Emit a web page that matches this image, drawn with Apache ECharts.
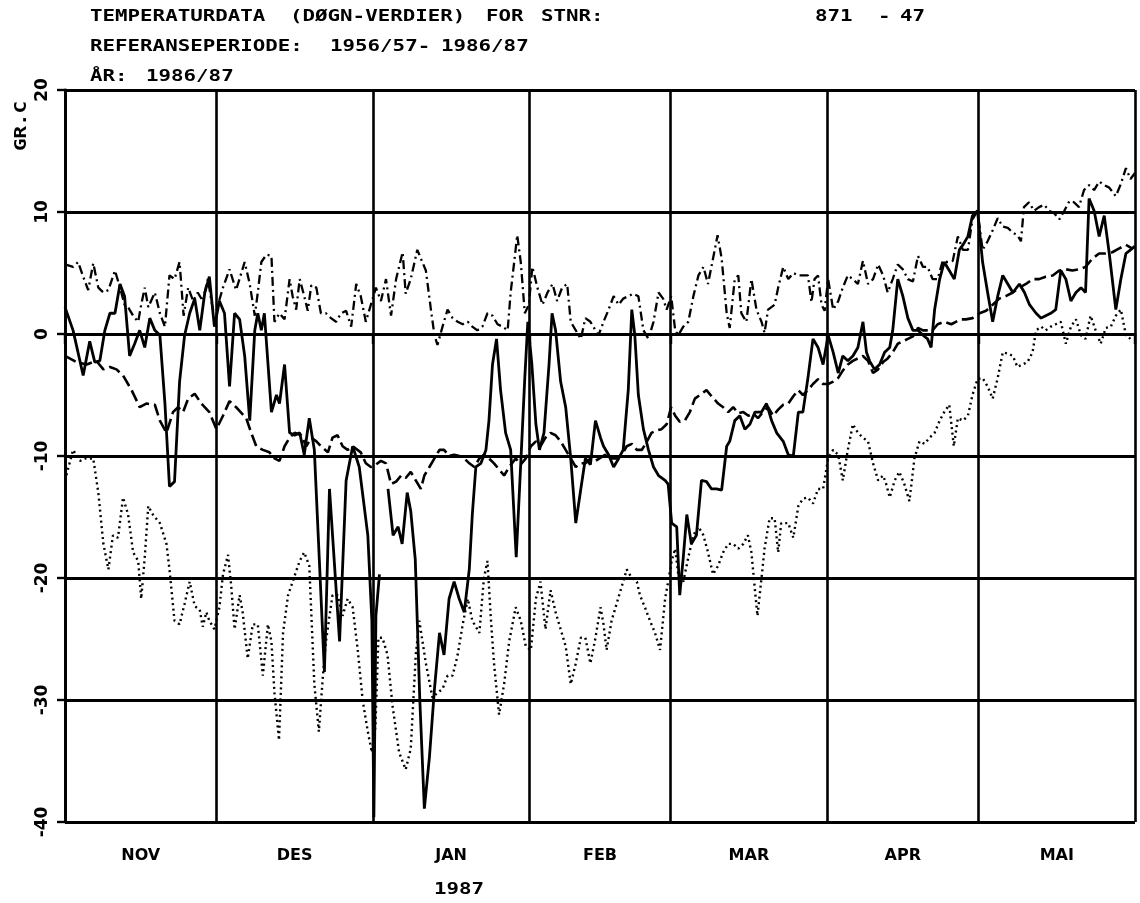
<!DOCTYPE html>
<html>
<head>
<meta charset="utf-8">
<script src="https://cdn.jsdelivr.net/npm/echarts@6/dist/echarts.min.js"></script>
<style>
html,body{margin:0;padding:0;background:#fff;}
#chart{width:1140px;height:903px;}
</style>
</head>
<body>
<div id="chart"></div>
<script>
// Month boundaries (day index from 1 Nov 1986) and month labels
var monthStarts = [0, 30, 61, 92, 120, 151, 181, 212];
var monthNames = ['NOV', 'DES', 'JAN', 'FEB', 'MAR', 'APR', 'MAI'];
var yTicks = [-40, -30, -20, -10, 0, 10, 20];

// Dash-dot curve (upper reference curve)
var maxDays = [0,1.6,2.6,3.6,4.6,5.6,6.6,7.6,8.6,9.9,10.9,11.8,12.5,13.5,14.5,15.1,15.8,16.5,17.8,18.8,19.8,20.7,21.7,22.7,23.5,24.4,25.4,26.3,27.3,28.3,29.3,30.3,31.3,32.6,33.9,35.6,36.6,37.6,38.2,38.9,39.9,40.9,41.5,42.5,43.5,44.5,45.1,45.8,46.5,47.4,48.1,48.8,49.8,50.7,51.7,52.7,53.7,54.7,55.7,56.7,57.7,58.6,59.6,60.6,61.6,62.6,63.6,64.6,65.6,66.9,67.5,68.5,69.8,71.5,72.5,73.2,73.8,74.8,75.8,76.8,77.8,78.8,79.8,80.7,81.7,82.7,83.7,84.7,85.7,86.7,87.7,88.3,89.0,89.6,90.3,91.1,91.9,92.6,93.6,94.6,95.6,96.6,97.5,98.5,99.5,100.2,101.2,102.2,103.1,104.1,105.1,105.7,106.7,107.7,108.7,109.7,110.6,111.6,112.6,113.6,114.6,115.6,116.6,117.6,118.5,119.2,120.1,120.9,121.5,122.5,123.5,124.5,125.5,126.5,127.4,128.4,129.3,130.1,131.1,131.7,132.7,133.4,134.0,135.0,136.0,137.0,138.0,138.6,139.3,140.6,141.3,142.3,143.3,144.3,145.3,146.2,147.2,147.9,148.5,149.2,149.9,150.5,151.2,152.2,153.2,154.1,155.1,156.1,157.1,158.1,159.1,160.1,161.1,162.1,163.0,164.0,165.0,166.0,167.0,168.0,169.0,170.0,170.9,171.9,172.9,173.9,174.9,175.9,176.9,177.9,178.9,179.8,180.8,181.8,182.8,183.8,184.8,185.8,186.8,187.8,188.7,189.4,190.0,191.0,192.0,193.0,194.0,195.0,196.0,197.0,198.0,199.0,199.9,200.9,201.9,202.9,203.9,204.9,205.9,206.9,208.2,209.2,210.2,211.1,212];
var maxVals = [5.7,5.5,5.9,4.7,3.6,5.8,3.8,3.4,3.6,5.2,3.8,2.4,2.2,1.5,1.0,2.4,3.8,2.2,3.4,1.7,0.6,4.8,4.5,5.9,1.5,3.8,2.7,3.4,2.7,4.5,2.0,2.4,3.8,5.3,3.6,5.9,4.1,1.5,3.4,5.9,6.5,6.4,1.0,1.7,1.2,4.5,3.1,2.0,4.5,3.1,1.9,4.0,3.8,1.7,1.7,1.3,1.0,1.7,1.9,0.6,4.1,3.1,1.0,2.4,3.8,2.7,4.5,1.5,4.5,6.7,3.3,4.5,6.9,5.2,2.0,-0.1,-0.9,0.6,2.0,1.3,1.0,0.8,1.0,0.6,0.3,0.6,1.7,1.5,0.8,0.6,0.3,3.4,5.9,8.1,5.9,1.7,2.4,5.5,3.8,2.4,3.4,4.1,2.7,3.8,4.1,1.0,0.3,-0.4,1.3,1.0,0.3,-0.1,1.0,2.0,3.1,2.4,2.9,3.1,3.3,3.1,0.3,-0.4,1.0,3.4,2.9,2.0,3.1,0.3,-0.1,0.6,1.0,3.1,4.8,5.5,4.1,6.2,8.1,6.2,1.7,0.5,4.5,4.8,1.7,1.0,4.5,2.0,1.0,0.1,2.0,2.4,3.8,5.5,4.5,5.0,4.8,4.8,4.8,2.6,4.5,4.8,2.4,1.9,4.5,2.0,2.7,3.8,4.8,4.5,4.1,6.0,4.1,4.5,5.7,4.8,3.4,4.5,5.7,5.3,4.5,4.3,6.4,5.5,5.5,4.5,4.5,6.0,5.9,6.0,8.0,6.9,6.9,9.4,10.1,6.9,7.6,8.5,9.5,8.8,8.7,8.3,8.1,7.6,10.4,10.8,10.1,10.4,10.6,10.1,9.9,9.4,10.1,10.9,10.8,10.4,11.8,12.2,11.8,12.5,12.2,12.0,11.3,12.3,13.6,12.7,13.2];

// Dashed curve (reference mean)
var meanDays = [0,2.3,4.3,6.2,7.6,8.9,10.2,11.5,13.2,14.8,16.1,17.8,18.8,20.1,21.4,22.4,23.4,24.4,25.7,27.0,28.6,30.0,31.3,32.6,33.9,35.9,36.9,37.9,39.2,40.5,41.5,42.5,43.5,44.5,45.5,46.8,47.8,48.8,49.8,50.7,52.1,53.0,54.0,55.0,56.0,57.0,58.6,59.6,60.6,61.6,62.6,63.6,64.6,65.6,66.6,67.5,68.5,69.5,70.5,71.2,72.2,73.2,74.2,75.1,76.1,77.1,78.1,79.1,80.1,81.1,82.1,83.0,84.0,85.0,86.0,87.0,88.0,89.3,90.3,91.3,92.3,93.3,94.2,95.2,96.2,97.2,98.2,99.2,100.2,101.2,102.2,103.1,104.1,105.1,107.0,108.3,109.3,110.3,111.3,112.3,113.3,114.3,115.3,116.2,117.2,118.2,119.2,120.1,120.9,121.8,122.8,123.8,124.8,125.8,127.1,128.1,129.4,130.4,131.4,132.4,133.4,134.4,135.4,136.3,137.3,138.3,139.3,140.3,141.3,142.3,143.3,144.3,145.3,146.2,147.2,148.2,149.2,150.2,151.2,152.2,153.2,154.1,155.1,156.1,157.1,158.1,159.1,160.1,161.1,162.1,163.0,164.0,165.0,166.0,167.0,168.0,169.0,170.0,170.9,171.9,172.9,174.2,175.6,176.5,177.5,178.5,179.8,181.2,182.5,183.8,185.1,186.4,187.8,189.1,190.4,191.7,193.0,194.3,195.7,197.0,198.3,199.6,200.9,202.2,203.6,204.9,206.2,207.5,208.8,210.2,211.5];
var meanVals = [-1.8,-2.3,-2.5,-2.2,-2.9,-2.7,-2.9,-3.4,-4.6,-6.0,-5.7,-5.8,-7.1,-8.1,-6.4,-6.0,-6.4,-5.3,-4.9,-5.7,-6.4,-7.8,-6.7,-5.5,-6.0,-6.9,-8.1,-9.2,-9.5,-9.7,-10.2,-10.4,-9.2,-8.5,-8.1,-8.3,-9.2,-8.5,-8.8,-9.2,-9.7,-8.5,-8.3,-9.2,-9.5,-9.2,-9.7,-10.6,-10.9,-10.7,-10.4,-10.6,-12.3,-12.1,-11.6,-11.8,-11.3,-12.0,-12.7,-11.6,-10.9,-10.2,-9.5,-9.5,-10.0,-9.9,-10.0,-10.2,-10.6,-10.9,-10.2,-9.9,-10.2,-10.6,-11.1,-11.6,-10.9,-10.2,-10.7,-10.2,-9.2,-8.8,-9.2,-8.5,-8.1,-8.3,-8.8,-9.5,-10.2,-10.9,-10.6,-10.6,-10.2,-10.4,-9.9,-10.2,-10.2,-9.9,-9.2,-9.0,-9.5,-9.5,-8.8,-8.1,-7.9,-7.8,-7.4,-6.0,-6.7,-7.2,-7.1,-6.4,-5.3,-5.0,-4.6,-5.1,-5.7,-6.0,-6.4,-6.0,-6.5,-6.4,-6.7,-6.5,-6.9,-6.4,-6.0,-6.7,-6.2,-5.8,-5.7,-5.1,-4.6,-5.0,-4.6,-4.1,-3.7,-4.1,-4.1,-3.9,-3.6,-3.0,-2.5,-2.2,-2.0,-1.8,-2.2,-3.2,-2.9,-2.3,-2.0,-1.5,-0.8,-0.6,-0.4,-0.2,0.5,0.3,0.3,0.3,0.8,1.0,0.8,1.0,1.2,1.2,1.3,1.7,1.9,2.4,2.9,3.1,3.4,3.8,4.1,4.5,4.5,4.7,4.8,5.2,5.3,5.2,5.3,5.5,6.2,6.6,6.6,6.7,7.0,7.3,7.0];

// Solid curve (daily values 1986/87); null marks the break in the trace
var obsDays = [0,1.6,3.6,4.9,5.9,6.9,7.9,8.9,9.9,10.9,11.8,12.8,13.8,14.8,15.8,16.8,17.8,18.8,19.8,20.7,21.7,22.7,23.7,24.7,25.7,26.7,27.7,28.6,29.6,30.6,31.6,32.6,33.6,34.6,35.6,36.6,37.6,38.2,38.9,39.5,40.9,41.9,42.5,43.5,44.5,45.5,46.5,47.4,48.4,49.4,51.4,52.4,54.4,55.7,57.0,58.3,60.0,60.8,61.2,61.6,62.3,63.1,64.0,65.0,66.0,66.8,67.8,68.5,69.4,70.3,71.2,72.2,73.2,74.2,75.1,76.1,77.1,78.1,79.1,80.1,80.7,81.4,82.4,83.4,84.0,84.7,85.5,86.3,87.3,88.3,89.4,90.3,91.1,91.7,92.5,93.3,94.0,94.9,95.9,96.5,97.2,98.2,99.2,100.2,101.2,102.2,103.1,104.1,105.1,106.1,106.7,107.7,108.7,109.7,110.6,111.6,112.3,112.9,113.6,114.6,115.6,116.6,117.6,118.9,119.5,120.2,121.2,121.8,122.5,123.2,124.1,125.1,126.1,127.1,128.1,129.1,130.1,131.1,131.7,132.7,133.7,134.7,135.7,136.7,138.0,139.0,140.0,141.0,142.3,143.3,144.3,145.3,146.2,147.2,148.2,149.2,150.2,151.2,152.2,153.2,154.1,155.1,156.1,157.1,158.1,158.8,159.4,160.4,161.4,162.4,163.4,164.0,165.0,166.0,167.0,168.0,169.0,170.0,170.9,171.6,172.3,173.3,174.2,175.2,176.2,177.2,177.9,178.9,179.8,180.8,181.8,182.8,183.8,184.8,185.8,186.8,187.8,189.1,190.1,191.1,192.4,193.4,194.3,195.3,196.3,197.3,198.3,199.3,200.3,201.3,202.2,202.9,203.9,204.9,205.9,206.9,208.2,209.2,210.2,211.1,212];
var obsVals = [2.2,0.3,-3.4,-0.6,-2.3,-2.2,0.3,1.7,1.7,4.1,3.1,-1.8,-0.8,0.3,-1.1,1.3,0.3,-0.1,-5.7,-12.5,-12.1,-3.9,-0.1,1.7,2.9,0.3,3.4,4.7,0.6,2.7,1.7,-4.3,1.7,1.2,-1.8,-7.1,0.3,1.7,0.3,1.7,-6.4,-5.0,-5.7,-2.5,-8.1,-8.3,-8.1,-9.9,-6.9,-9.5,-27.7,-12.7,-25.2,-12.0,-9.2,-10.9,-16.5,-23.5,-39.6,-23.1,-19.7,null,-12.7,-16.5,-15.8,-17.2,-13.0,-14.5,-18.5,-30.0,-38.9,-34.7,-29.1,-24.5,-26.3,-21.7,-20.3,-21.7,-22.8,-19.3,-14.8,-10.9,-10.6,-9.5,-7.1,-2.5,-0.4,-4.6,-8.1,-9.5,-18.3,-10.6,-3.6,1.0,-2.5,-7.4,-9.5,-8.1,-2.5,1.7,0.3,-3.9,-6.0,-10.2,-15.5,-12.7,-10.2,-10.7,-7.1,-8.5,-9.2,-9.9,-10.9,-10.2,-9.5,-4.6,2.0,-0.1,-5.0,-7.8,-9.5,-10.9,-11.6,-12.0,-12.3,-15.5,-15.8,-21.4,-18.3,-14.8,-17.2,-16.5,-12.0,-12.1,-12.7,-12.7,-12.8,-9.2,-8.8,-7.1,-6.7,-7.8,-7.4,-6.4,-6.4,-5.7,-7.1,-8.1,-8.8,-9.9,-10.0,-6.4,-6.4,-3.6,-0.4,-1.1,-2.5,-0.1,-1.5,-3.2,-1.8,-2.2,-1.8,-1.1,1.0,-1.5,-2.2,-2.9,-2.5,-1.5,-1.1,0.3,4.5,3.1,1.3,0.3,0.3,-0.1,-0.4,-1.1,2.0,4.5,5.9,5.2,4.5,6.9,7.3,8.0,9.7,10.1,5.9,3.4,1.0,3.1,4.8,4.1,3.4,4.1,3.4,2.4,1.7,1.3,1.5,1.7,2.0,5.2,4.5,2.7,3.4,3.8,3.4,11.1,10.1,8.0,9.7,6.6,2.0,4.5,6.6,6.9,7.2];

// Dotted curve (lower reference curve)
var minDays = [0,1.6,3.0,3.9,5.6,6.6,7.6,8.6,9.5,10.5,11.5,12.5,13.5,14.5,15.1,15.8,16.5,17.4,18.8,20.1,20.7,21.7,22.7,23.7,24.7,25.7,26.7,27.3,28.0,28.6,29.6,30.6,31.3,32.3,32.9,33.6,34.6,35.2,36.2,37.2,38.2,39.2,40.2,40.9,41.5,42.4,43.2,44.2,45.1,46.5,47.4,48.4,49.4,50.3,51.1,51.7,53.0,54.0,55.0,56.0,57.0,58.0,59.0,60.0,60.8,61.5,62.1,62.9,63.9,64.9,66.2,67.5,68.5,69.5,70.2,71.5,72.8,73.8,74.8,75.8,76.8,77.8,78.8,79.8,80.7,82.1,83.0,83.7,84.4,85.0,86.0,87.0,88.0,89.3,90.3,91.3,92.3,93.3,94.2,95.2,96.2,97.2,98.2,99.2,100.2,101.2,102.2,103.1,104.1,105.1,106.1,106.7,107.3,108.3,109.3,110.3,111.3,112.3,113.3,113.9,114.9,115.9,116.9,117.9,118.9,119.5,120.2,120.9,121.5,122.5,123.5,124.5,125.5,126.5,127.4,128.4,129.4,130.4,131.4,132.4,133.4,134.4,135.3,136.0,136.7,137.2,138.0,138.6,139.6,140.6,141.3,141.9,143.3,144.3,145.3,146.2,147.2,148.2,149.2,150.2,151.2,152.2,153.2,154.1,155.1,156.1,157.1,158.1,159.1,160.1,161.1,162.1,162.7,163.4,164.4,165.3,166.3,167.3,168.3,169.3,170.3,171.3,172.3,173.3,174.2,175.2,176.1,176.9,177.9,178.9,179.8,180.8,181.8,182.8,183.8,184.8,185.8,186.8,187.8,188.7,189.7,190.7,191.7,192.4,193.4,194.3,195.3,196.3,197.3,198.3,199.3,200.3,201.3,202.2,203.2,204.2,205.2,206.2,207.2,208.2,209.2,210.2,211.1];
var minVals = [-12.0,-9.5,-10.4,-10.2,-10.2,-13.0,-17.2,-19.3,-16.5,-16.7,-13.4,-14.8,-17.9,-18.6,-21.7,-18.3,-14.1,-14.8,-15.5,-17.2,-19.3,-23.5,-23.8,-22.1,-20.3,-22.3,-22.6,-24.0,-22.8,-23.5,-24.2,-22.4,-19.7,-18.1,-20.5,-24.2,-21.4,-22.8,-26.6,-23.8,-23.8,-28.0,-23.8,-25.2,-29.4,-33.3,-24.5,-21.4,-20.3,-18.6,-17.9,-19.0,-28.7,-32.6,-28.0,-25.2,-21.4,-21.4,-23.1,-21.7,-22.4,-25.9,-30.1,-32.6,-34.3,-32.2,-24.9,-24.9,-26.3,-30.5,-34.3,-35.7,-34.0,-26.3,-23.5,-27.0,-29.8,-29.4,-29.1,-28.0,-28.0,-26.3,-23.8,-21.7,-23.5,-24.5,-20.0,-18.6,-23.5,-27.0,-31.2,-28.7,-25.2,-22.4,-23.5,-25.6,-25.9,-21.7,-20.3,-24.2,-21.0,-22.8,-24.2,-25.6,-28.7,-27.0,-24.9,-24.9,-27.0,-24.9,-22.4,-23.8,-25.9,-23.5,-22.1,-20.7,-19.3,-20.0,-20.3,-21.4,-22.4,-23.5,-24.5,-25.9,-21.7,-20.3,-18.6,-17.6,-19.7,-20.3,-18.3,-16.5,-15.8,-16.5,-17.9,-19.7,-19.0,-17.9,-17.2,-17.2,-17.6,-17.2,-16.5,-17.9,-21.0,-23.1,-20.0,-17.6,-15.1,-15.1,-17.9,-15.5,-15.5,-16.7,-14.1,-13.5,-13.4,-13.9,-12.7,-12.7,-10.2,-9.5,-9.9,-12.0,-9.5,-7.4,-8.1,-8.5,-8.8,-10.6,-12.0,-11.6,-12.3,-13.4,-12.0,-11.3,-12.3,-13.7,-10.2,-8.8,-9.0,-8.5,-8.1,-7.1,-6.4,-5.8,-9.2,-6.9,-7.1,-6.7,-5.0,-3.7,-3.6,-4.3,-5.3,-3.6,-1.5,-1.6,-1.8,-2.7,-2.5,-2.3,-1.5,0.3,0.6,0.3,0.6,0.8,1.0,-0.8,0.6,1.2,-0.1,-0.4,1.5,0.3,-0.8,0.5,0.6,1.5,2.0,-0.1,-0.4];

function pairs(xs, ys) {
  return xs.map(function (x, i) { return [x, ys[i]]; });
}
var monthMids = monthNames.map(function (n, i) { return (monthStarts[i] + monthStarts[i + 1]) / 2; });

var FONT = '"DejaVu Sans", "Liberation Sans", sans-serif';
var MONO = 'bold 16px "DejaVu Sans Mono", "Liberation Mono", monospace';
var INK = '#000';

function plotText(s, x, y, opts) {
  opts = opts || {};
  return {
    type: 'text', x: x, y: y, scaleX: opts.scaleX || 1.3, rotation: opts.rotation || 0,
    style: {text: s, font: opts.font || MONO, fill: INK, align: opts.align || 'left', verticalAlign: 'middle'}
  };
}

var chart = echarts.init(document.getElementById('chart'), null, {renderer: 'canvas'});
chart.setOption({
  animation: false,
  backgroundColor: '#fff',
  grid: {left: 65, top: 90, width: 1070, height: 732, containLabel: false},
  xAxis: {
    type: 'value', min: monthStarts[0], max: monthStarts[monthStarts.length - 1],
    axisLine: {show: true, lineStyle: {color: INK, width: 2.8}},
    axisTick: {show: true, customValues: monthStarts, length: 10, inside: false, lineStyle: {color: INK, width: 2.4}},
    axisLabel: {
      show: true, customValues: monthMids, margin: 26,
      color: INK, fontFamily: FONT, fontWeight: 'bold', fontSize: 16,
      formatter: function (v) {
        for (var i = 0; i < monthMids.length; i++) { if (Math.abs(monthMids[i] - v) < 0.01) return monthNames[i]; }
        return '';
      }
    },
    splitLine: {show: false}
  },
  yAxis: {
    type: 'value', min: yTicks[0], max: yTicks[yTicks.length - 1], interval: 10,
    axisLine: {show: true, lineStyle: {color: INK, width: 2.8}},
    axisTick: {show: true, length: 8, inside: false, lineStyle: {color: INK, width: 2.4}},
    axisLabel: {show: true, rotate: 90, margin: 14, color: INK, fontFamily: FONT, fontWeight: 'bold', fontSize: 17},
    splitLine: {show: true, lineStyle: {color: INK, width: 3}}
  },
  series: [
    {
      name: 'obs', type: 'line', data: pairs(obsDays, obsVals), showSymbol: false, connectNulls: false,
      lineStyle: {color: INK, width: 2.8, type: 'solid'}, z: 5,
      markLine: {
        silent: true, symbol: ['none', 'none'], label: {show: false},
        lineStyle: {color: INK, width: 2.6, type: 'solid'},
        data: monthStarts.map(function (d) { return {xAxis: d}; })
      }
    },
    {name: 'mean', type: 'line', data: pairs(meanDays, meanVals), showSymbol: false,
      lineStyle: {color: INK, width: 2.6, type: [12, 5]}, z: 4},
    {name: 'max', type: 'line', data: pairs(maxDays, maxVals), showSymbol: false,
      lineStyle: {color: INK, width: 2.3, type: [9, 4, 2, 4]}, z: 4},
    {name: 'min', type: 'line', data: pairs(minDays, minVals), showSymbol: false,
      lineStyle: {color: INK, width: 2.4, type: [2, 3.5]}, z: 4}
  ],
  graphic: [
    plotText('TEMPERATURDATA', 90, 17),
    plotText('(DØGN-VERDIER)', 290, 17),
    plotText('FOR', 486, 17),
    plotText('STNR:', 541, 17),
    plotText('871', 815, 17),
    plotText('-', 878, 17),
    plotText('47', 900, 17),
    plotText('REFERANSEPERIODE:', 90, 47),
    plotText('1956/57-', 330, 47),
    plotText('1986/87', 441, 47),
    plotText('ÅR:', 90, 77),
    plotText('1986/87', 146, 77),
    plotText('GR.C', 22, 126, {rotation: Math.PI / 2, align: 'center'}),
    plotText('1987', 459, 890, {align: 'center'})
  ]
});
</script>
</body>
</html>
